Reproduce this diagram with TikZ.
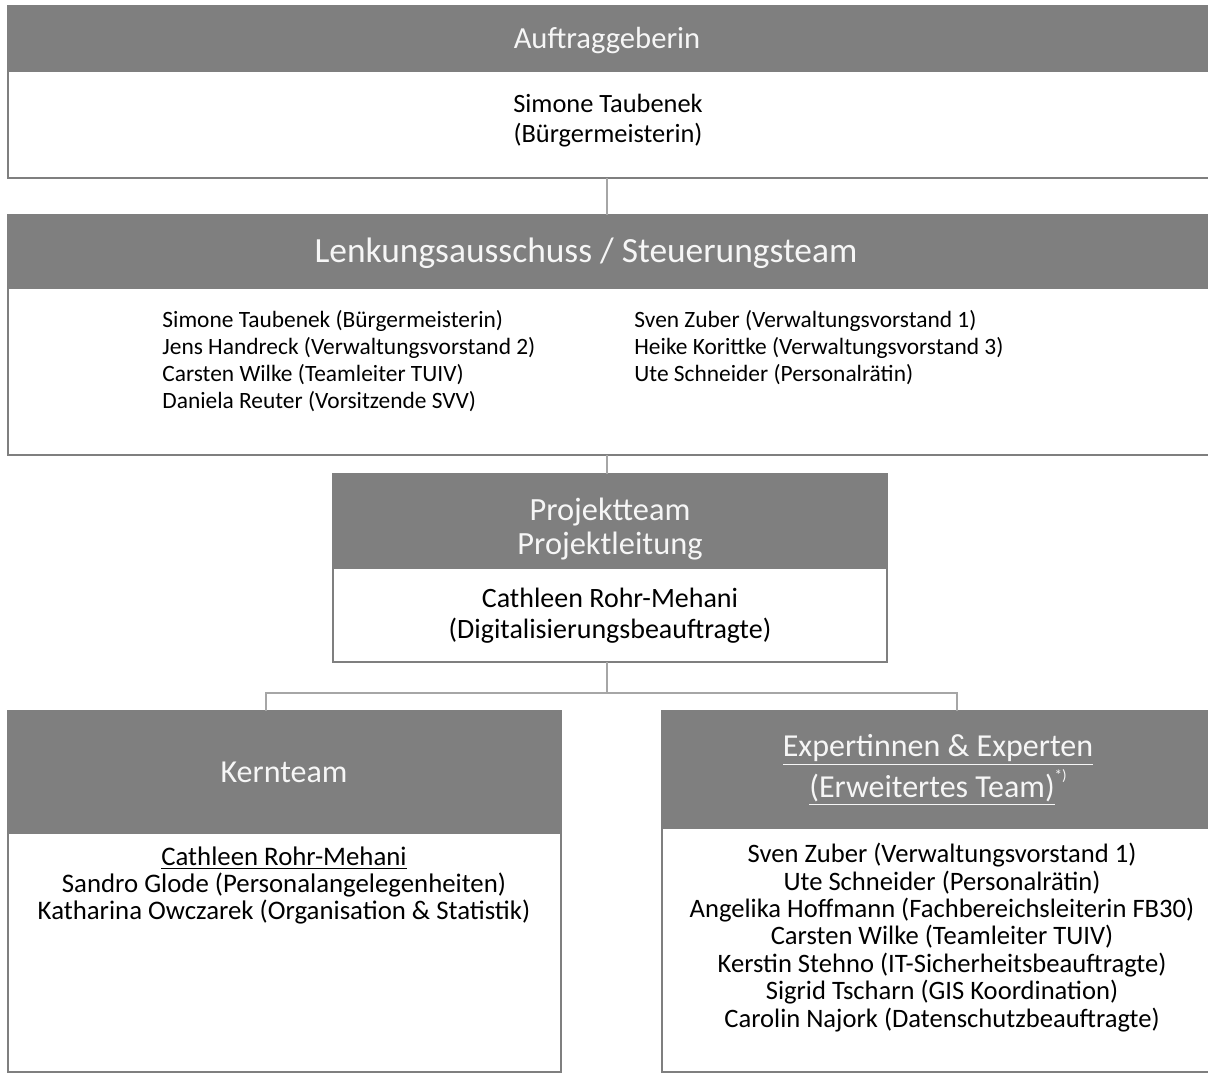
\documentclass[tikz,border=0pt]{standalone}
\usepackage{fontspec}
\setmainfont{Carlito}
\definecolor{hgray}{RGB}{127,127,127}
\definecolor{lgray}{RGB}{166,166,166}
\definecolor{htext}{RGB}{246,246,246}
\begin{document}
\begin{tikzpicture}[x=0.5pt,y=-0.5pt,
  frame/.style={draw=hgray,line width=1pt,fill=white,inner sep=0pt,outer sep=0pt},
  headbar/.style={draw=hgray,line width=1pt,fill=hgray,inner sep=0pt,outer sep=0pt},
  conn/.style={draw=lgray,line width=0.7pt},
  body/.style={text=black,inner sep=0pt},
  title/.style={text=htext,inner sep=0pt,align=center}]
\useasboundingbox (0,0) rectangle (1208,1073);
\clip (0,0) rectangle (1208,1073);

% guide coordinates for the connector lines
\coordinate (spine) at (607,0);
\coordinate (bus) at (0,693);
\coordinate (kdrop) at (266,0);
\coordinate (edrop) at (957,0);

% boxes: outer frame plus a filled title bar
\node[frame,minimum width=604pt,minimum height=86pt] (auf) at (612,92) {};
\node[headbar,minimum width=604pt,minimum height=32.5pt] (aufhead) at (612,38.5) {};

\node[frame,minimum width=604pt,minimum height=120pt] (lenk) at (612,335) {};
\node[headbar,minimum width=604pt,minimum height=36.5pt] (lenkhead) at (612,251.5) {};

\node[frame,minimum width=277pt,minimum height=94pt] (proj) at (610,568) {};
\node[headbar,minimum width=277pt,minimum height=47pt] (projhead) at (610,521) {};

\node[frame,minimum width=276.5pt,minimum height=180.5pt] (kern) at (284.5,891.5) {};
\node[headbar,minimum width=276.5pt,minimum height=61pt] (kernhead) at (284.5,772) {};

\node[frame,minimum width=280pt,minimum height=180.5pt] (exp) at (942,891.5) {};
\node[headbar,minimum width=280pt,minimum height=58.5pt] (exphead) at (942,769.5) {};

% connectors
\draw[conn] (auf.south -| spine) -- (lenkhead.north -| spine);
\draw[conn] (lenk.south -| spine) -- (projhead.north -| spine);
\draw[conn] (proj.south -| spine) -- (spine |- bus);
\draw[conn] (kernhead.north -| kdrop) -- (kdrop |- bus) -- (edrop |- bus) -- (exphead.north -| edrop);

% titles
\node[title,font=\fontsize{15.3}{18}\selectfont] (auftitle) at (607,40) {Auftraggeberin};
\node[title,font=\fontsize{17.7}{20}\selectfont] (lenktitle) at (586,253) {Lenkungsausschuss / Steuerungsteam};
\node[title,font=\fontsize{16.2}{17}\selectfont] (projtitle) at (610,529) {Projektteam\\Projektleitung};
\node[title,font=\fontsize{16}{18}\selectfont] (kerntitle) at (284,772) {Kernteam};
\node[title,font=\fontsize{16}{20.5}\selectfont] (exptitle) at (938,770)
  {\underline{Expertinnen \& Experten}\\\underline{(Erweitertes Team)}\raisebox{1.1ex}{\fontsize{7.5}{7.5}\selectfont *)}};

% member lists
\node[body,align=center,font=\fontsize{13.2}{15}\selectfont] (auftext) at (608,121)
  {Simone Taubenek\\(Bürgermeisterin)};
\node[body,align=left,anchor=west,font=\fontsize{11.7}{13.5}\selectfont] (lenkleft) at (162,361.5)
  {Simone Taubenek (Bürgermeisterin)\\Jens Handreck (Verwaltungsvorstand 2)\\Carsten Wilke (Teamleiter TUIV)\\Daniela Reuter (Vorsitzende SVV)};
\node[body,align=left,anchor=west,font=\fontsize{11.7}{13.5}\selectfont] (lenkright) at (634,348)
  {Sven Zuber (Verwaltungsvorstand 1)\\Heike Korittke (Verwaltungsvorstand 3)\\Ute Schneider (Personalrätin)};
\node[body,align=center,font=\fontsize{14}{15.5}\selectfont] (projtext) at (610,616)
  {Cathleen Rohr-Mehani\\(Digitalisierungsbeauftragte)};
\node[body,align=center,font=\fontsize{13.4}{13.5}\selectfont] (kerntext) at (284,885)
  {\underline{Cathleen Rohr-Mehani}\\Sandro Glode (Personalangelegenheiten)\\Katharina Owczarek (Organisation \& Statistik)};
\node[body,align=center,font=\fontsize{13.3}{13.7}\selectfont] (exptext) at (942,937.5)
  {Sven Zuber (Verwaltungsvorstand 1)\\Ute Schneider (Personalrätin)\\Angelika Hoffmann (Fachbereichsleiterin FB30)\\Carsten Wilke (Teamleiter TUIV)\\Kerstin Stehno (IT-Sicherheitsbeauftragte)\\Sigrid Tscharn (GIS Koordination)\\Carolin Najork (Datenschutzbeauftragte)};
\end{tikzpicture}
\end{document}
